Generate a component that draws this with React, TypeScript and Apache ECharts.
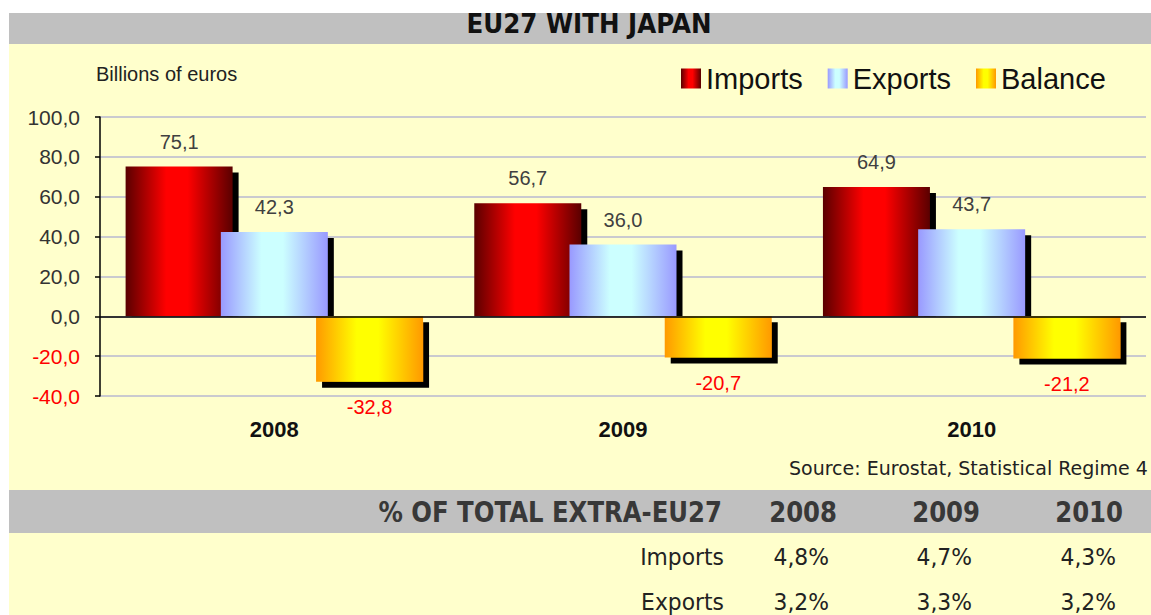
import React, { useEffect, useRef } from "react";
import * as echarts from "echarts";

const years = ["2008", "2009", "2010"];
const imports = [75.1, 56.7, 64.9];
const exportsV = [42.3, 36.0, 43.7];
const balance = [-32.8, -20.7, -21.2];
const seriesNames = ["Imports", "Exports", "Balance"];
const tableHeader = "% OF TOTAL EXTRA-EU27";
const importsShare = ["4,8%", "4,7%", "4,3%"];
const exportsShare = ["3,2%", "3,3%", "3,2%"];

const fmt = (v: number) => v.toFixed(1).replace(".", ",");

const grad = (edge: string, mid: string) =>
  new echarts.graphic.LinearGradient(0, 0, 1, 0, [
    { offset: 0, color: edge },
    { offset: 0.38, color: mid },
    { offset: 0.58, color: mid },
    { offset: 1, color: edge },
  ]);

const BAR_W = 107;
const BAR_GAP = -0.11;
const SH = 6;

export default function App() {
  const ref = useRef<HTMLDivElement>(null);
  useEffect(() => {
    const chart = echarts.init(ref.current!, null, { renderer: "svg" });
    const ARIAL = "'Liberation Sans', Arial, sans-serif";
    const step = BAR_W * (1 + BAR_GAP);
    const labelBase = {
      show: true,
      fontFamily: ARIAL,
      fontSize: 20,
      distance: 15,
      formatter: (p: any) => fmt(p.value),
    };
    // shadow for positive bars, clipped at the zero line
    const shadowSeries = (name: string, vals: number[], slot: number) => ({
      name,
      type: "custom",
      silent: true,
      data: vals.map((v, i) => [i, v]),
      renderItem: (params: any, api: any) => {
        const top = api.coord([api.value(0), api.value(1)]);
        const zero = api.coord([api.value(0), 0]);
        const cx = top[0] + (slot - 1) * step;
        return {
          type: "rect",
          shape: {
            x: cx - BAR_W / 2 + SH,
            y: top[1] + SH,
            width: BAR_W,
            height: Math.max(0, zero[1] - top[1] - SH),
          },
          style: { fill: "#000" },
        };
      },
    });
    const yearX = [837, 980, 1123];
    const valX = [829, 972, 1116];
    const txt = (
      text: string,
      x: number,
      y: number,
      font: string,
      fill: string,
      align: string,
      scaleX = 1
    ) => ({
      type: "text",
      x,
      y,
      scaleX,
      z: 5,
      style: {
        text,
        font,
        fill,
        textAlign: align,
        textVerticalAlign: "middle",
        align,
        verticalAlign: "middle",
      },
    });
    const headFont = "bold 28px 'DejaVu Sans'";
    const rowFont = "23px 'DejaVu Sans'";
    const graphics: any[] = [
      { type: "rect", z: -10, shape: { x: 9, y: 44, width: 1142, height: 571 }, style: { fill: "#FFFFCC" } },
      { type: "rect", z: -9, shape: { x: 9, y: 13, width: 1142, height: 31 }, style: { fill: "#C0C0C0" } },
      { type: "rect", z: -9, shape: { x: 9, y: 490, width: 1142, height: 43 }, style: { fill: "#C0C0C0" } },
      txt("EU27 WITH JAPAN", 589, 24, "bold 27px 'DejaVu Sans'", "#111", "center", 0.91),
      txt("Billions of euros", 96, 74, "20px " + ARIAL, "#222", "left"),
      txt("Source: Eurostat, Statistical Regime 4", 789, 468, "19px 'DejaVu Sans'", "#222", "left"),
      txt(tableHeader, 722, 512, headFont, "#383838", "right", 0.87),
      txt("Imports", 724, 557, rowFont, "#222", "right", 0.95),
      txt("Exports", 724, 602, rowFont, "#222", "right", 0.95),
    ];
    years.forEach((y, i) => {
      graphics.push(txt(y, yearX[i], 512, headFont, "#383838", "right", 0.87));
      graphics.push(txt(importsShare[i], valX[i], 557, rowFont, "#222", "right", 0.95));
      graphics.push(txt(exportsShare[i], valX[i], 602, rowFont, "#222", "right", 0.95));
    });

    chart.setOption({
      animation: false,
      backgroundColor: "#FFFFFF",
      graphic: graphics,
      legend: {
        data: seriesNames,
        left: 681,
        top: 64,
        padding: 0,
        icon: "rect",
        itemWidth: 20,
        itemHeight: 20,
        itemGap: 25,
        textStyle: { fontSize: 29, fontFamily: ARIAL, color: "#111" },
        itemStyle: { shadowBlur: 0, shadowOffsetX: 0, shadowOffsetY: 0, shadowColor: "transparent" },
      },
      grid: { left: 100, right: 5, top: 117, bottom: 219 },
      xAxis: {
        type: "category",
        data: years,
        position: "bottom",
        axisLine: { show: false, onZero: false },
        axisTick: { show: false },
        axisLabel: {
          fontFamily: ARIAL,
          fontSize: 22,
          fontWeight: "bold",
          color: "#111",
          margin: 22,
        },
      },
      yAxis: {
        type: "value",
        min: -40,
        max: 100,
        interval: 20,
        axisLine: { show: true, lineStyle: { color: "#000", width: 1.5 } },
        axisTick: { show: true, length: 5, lineStyle: { color: "#000", width: 1.5 } },
        axisLabel: {
          fontFamily: ARIAL,
          fontSize: 21,
          margin: 20,
          formatter: (v: number) => fmt(v),
          color: (v: any) => (Number(v) < 0 ? "#FF0000" : "#333333"),
        },
        splitLine: { show: true, lineStyle: { color: "#B8B8D0", width: 1.5 } },
      },
      series: [
        shadowSeries("ImportsShadow", imports, 0),
        {
          name: "Imports",
          type: "bar",
          data: imports,
          barWidth: BAR_W,
          barGap: BAR_GAP * 100 + "%",
          itemStyle: { color: grad("#5A0000", "#FF0000") },
          label: { ...labelBase, position: "top", color: "#404040" },
        },
        shadowSeries("ExportsShadow", exportsV, 1),
        {
          name: "Exports",
          type: "bar",
          data: exportsV,
          barWidth: BAR_W,
          barGap: BAR_GAP * 100 + "%",
          itemStyle: { color: grad("#9999FF", "#CCFFFF") },
          label: { ...labelBase, position: "top", color: "#404040" },
        },
        {
          name: "Balance",
          type: "bar",
          data: balance,
          barWidth: BAR_W,
          barGap: BAR_GAP * 100 + "%",
          itemStyle: {
            color: grad("#FF9900", "#FFFF00"),
            shadowColor: "#000",
            shadowOffsetX: SH,
            shadowOffsetY: SH,
            shadowBlur: 0,
          },
          label: { ...labelBase, position: "bottom", color: "#FF0000" },
          markLine: {
            silent: true,
            symbol: "none",
            label: { show: false },
            lineStyle: { color: "#000", width: 1.5, type: "solid" },
            data: [{ yAxis: 0 }],
          },
        },
      ],
    });
    return () => chart.dispose();
  }, []);
  return (
    <div
      ref={ref}
      style={{ position: "absolute", left: 0, top: 0, width: 1151, height: 615 }}
    />
  );
}
